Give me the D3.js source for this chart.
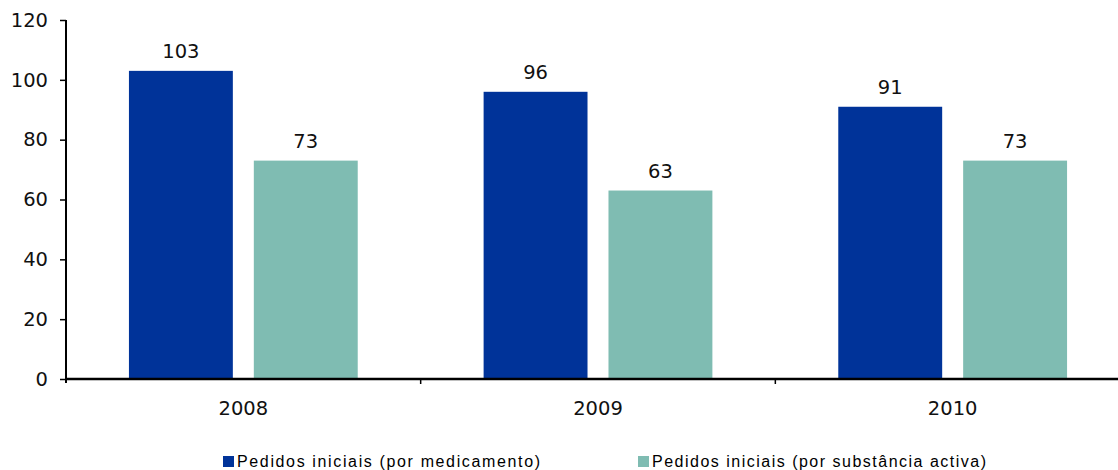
<!DOCTYPE html>
<html>
<head>
<meta charset="utf-8">
<script src="https://cdn.jsdelivr.net/npm/d3@7"></script>
<style>
  body { margin: 0; background: #fff; }
  svg { display: block; }
  .tick text { font-family: "DejaVu Sans", Verdana, sans-serif; font-size: 19.5px; fill: #111; }
</style>
</head>
<body>
<script>
var years = ["2008", "2009", "2010"];
var seriesNames = ["Pedidos iniciais (por medicamento)", "Pedidos iniciais (por substância activa)"];
var porMedicamento = [103, 96, 91];
var porSubstancia = [73, 63, 73];
var yTicks = [0, 20, 40, 60, 80, 100, 120];
var colors = ["#003399", "#7fbcb2"];

var svg = d3.select("body").append("svg")
  .attr("width", 1118)
  .attr("height", 470);

var plotLeft = 66, plotRight = 1130, plotTop = 20, plotBottom = 379;

var x0 = d3.scaleBand().domain(years).range([plotLeft, plotRight]).padding(0);
var x1 = d3.scaleBand().domain([0, 1]).range([0, x0.bandwidth()])
  .paddingInner(0.168).paddingOuter(0.504);
var y = d3.scaleLinear().domain([0, 120]).range([plotBottom, plotTop]);

var data = years.map(function (yr, i) {
  return { year: yr, values: [porMedicamento[i], porSubstancia[i]] };
});

// bars
var groups = svg.append("g").selectAll("g")
  .data(data).enter().append("g")
  .attr("transform", function (d) { return "translate(" + x0(d.year) + ",0)"; });

groups.selectAll("rect")
  .data(function (d) { return d.values.map(function (v, k) { return { k: k, v: v }; }); })
  .enter().append("rect")
  .attr("x", function (d) { return x1(d.k); })
  .attr("y", function (d) { return y(d.v); })
  .attr("width", x1.bandwidth())
  .attr("height", function (d) { return y(0) - y(d.v); })
  .style("fill", function (d) { return colors[d.k]; });

groups.selectAll("text")
  .data(function (d) { return d.values.map(function (v, k) { return { k: k, v: v }; }); })
  .enter().append("text")
  .attr("x", function (d) { return x1(d.k) + x1.bandwidth() / 2; })
  .attr("y", function (d) { return y(d.v) - 13; })
  .style("text-anchor", "middle")
  .style("font-family", "DejaVu Sans, Verdana, sans-serif")
  .style("font-size", "19.5px")
  .style("fill", "#111")
  .text(function (d) { return d.v; });

// y axis
svg.append("g")
  .attr("transform", "translate(" + plotLeft + ",0)")
  .call(d3.axisLeft(y).tickValues(yTicks).tickSize(6).tickPadding(12))
  .call(function (g) {
    g.select(".domain").attr("d", "M0," + plotTop + "V" + (plotBottom + 4)).style("stroke-width", 2);
    g.selectAll(".tick line").style("stroke-width", 1.5);
  });

// x axis
var xg = svg.append("g")
  .attr("transform", "translate(0," + plotBottom + ")")
  .call(d3.axisBottom(x0).tickSize(0).tickPadding(22));
xg.select(".domain").attr("d", "M" + plotLeft + ",0H" + plotRight).style("stroke-width", 2.5);
xg.selectAll(".bound")
  .data(years.slice(1)).enter().append("line")
  .attr("x1", function (d) { return x0(d); })
  .attr("x2", function (d) { return x0(d); })
  .attr("y1", 0).attr("y2", 5)
  .style("stroke", "#000").style("stroke-width", 1.5);

// legend
var legendX = [223, 638];
var legendW = [303, 334];
var legend = svg.append("g").selectAll("g")
  .data(seriesNames).enter().append("g")
  .attr("transform", function (d, i) { return "translate(" + legendX[i] + ",456)"; });
legend.append("rect")
  .attr("width", 11).attr("height", 11)
  .style("fill", function (d, i) { return colors[i]; });
legend.append("text")
  .attr("x", 14).attr("y", 11)
  .attr("textLength", function (d, i) { return legendW[i]; })
  .attr("lengthAdjust", "spacing")
  .style("font-family", "Liberation Sans, Arial, sans-serif")
  .style("font-size", "16px")
  .text(function (d) { return d; });
</script>
</body>
</html>
